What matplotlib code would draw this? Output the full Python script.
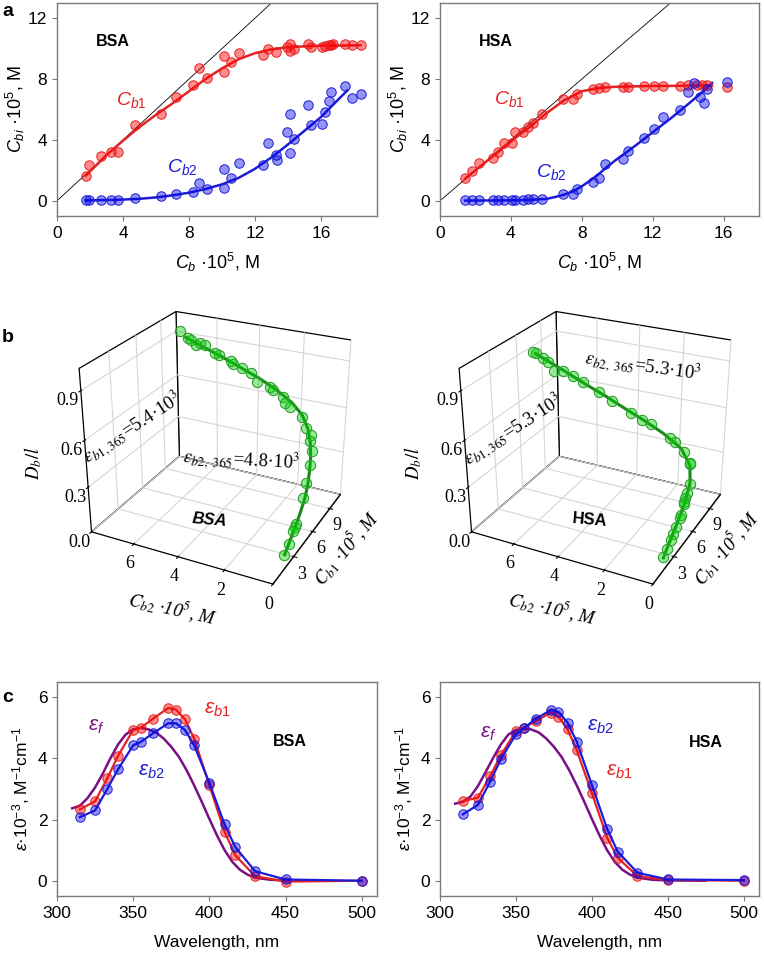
import matplotlib
matplotlib.use('Agg')
import matplotlib.pyplot as plt

plt.rcParams['font.family'] = ['Liberation Sans', 'DejaVu Sans']
plt.rcParams['mathtext.fontset'] = 'custom'
plt.rcParams['mathtext.rm'] = 'Liberation Sans'
plt.rcParams['mathtext.it'] = 'Liberation Sans:italic'
plt.rcParams['mathtext.bf'] = 'Liberation Sans:bold'
plt.rcParams['grid.color'] = '#d6d6d6'
plt.rcParams['grid.linewidth'] = 0.8

# ---- panel a : BSA ----
cb_r_bsa = [1.74, 1.94, 2.69, 3.30, 3.72, 4.72, 6.28, 7.21, 8.22, 8.60, 9.07, 10.1, 10.1, 10.55, 11.05,
            12.51, 12.77, 13.28, 13.97, 14.13, 14.13, 14.39, 15.24, 15.4, 16.05, 16.26, 16.46, 16.62,
            16.76, 17.47, 17.9, 18.44]
cb1_bsa = [1.62, 2.33, 2.94, 3.22, 3.22, 4.96, 5.68, 6.85, 7.59, 8.75, 8.07, 8.47, 9.52, 9.13, 9.70,
           9.59, 9.96, 9.78, 10.14, 10.33, 9.85, 10.0, 10.29, 10.14, 10.14, 10.18, 10.22, 10.25,
           10.29, 10.29, 10.25, 10.25]
cb_b_bsa = [1.74, 1.94, 2.69, 3.30, 3.72, 4.72, 6.28, 7.21, 8.22, 8.60, 9.07, 10.1, 10.1, 10.55, 11.05,
            12.51, 12.77, 13.28, 13.32, 13.97, 14.13, 14.13, 14.39, 15.24, 15.4, 16.05, 16.26, 16.46,
            16.62, 17.47, 17.9, 18.44]
cb2_bsa = [0.02, 0.02, 0.07, 0.07, 0.07, 0.2, 0.31, 0.46, 0.59, 1.18, 0.79, 0.86, 2.1, 1.47, 2.5,
           2.35, 3.77, 2.98, 2.68, 4.52, 5.68, 3.12, 4.04, 6.32, 4.96, 5.07, 5.84, 6.56, 7.15, 7.55,
           6.74, 7.02]
fit_cb_r_bsa = [1.74, 3, 4, 5, 6, 7, 8, 9, 10, 11, 12, 13, 14, 15, 16, 17, 18.4]
fit_cb1_bsa = [1.65, 3.0, 3.95, 4.85, 5.65, 6.4, 7.2, 8.0, 8.7, 9.3, 9.7, 9.95, 10.1, 10.15, 10.2, 10.2, 10.22]
fit_cb_b_bsa = [1.74, 3, 4, 5, 6, 7, 8, 9, 10, 11, 12, 13, 14, 15, 16, 17, 17.6]
fit_cb2_bsa = [0.02, 0.05, 0.08, 0.13, 0.22, 0.36, 0.53, 0.77, 1.08, 1.5, 2.1, 2.85, 3.7, 4.6, 5.5, 6.6, 7.25]

# ---- panel a : HSA ----
cb_r_hsa = [1.42, 1.8, 2.22, 2.98, 3.26, 3.6, 4.04, 4.23, 4.68, 4.99, 5.27, 5.78, 6.92, 7.49, 7.73,
            8.66, 8.95, 9.29, 10.35, 10.62, 11.5, 12.1, 12.6, 13.55, 14.0, 14.5, 14.79, 15.07, 16.21]
cb1_hsa = [1.47, 1.95, 2.5, 2.83, 3.22, 3.77, 3.77, 4.52, 4.52, 4.85, 5.13, 5.68, 6.67, 6.67, 7.04,
           7.33, 7.42, 7.5, 7.5, 7.5, 7.55, 7.55, 7.55, 7.55, 7.59, 7.59, 7.59, 7.59, 7.5]
cb_b_hsa = [1.42, 1.8, 2.22, 2.98, 3.26, 3.6, 4.04, 4.23, 4.68, 4.99, 5.27, 5.78, 6.92, 7.49, 7.73,
            8.66, 8.95, 9.29, 10.35, 10.62, 11.5, 12.1, 12.6, 13.55, 14.0, 14.35, 14.65, 14.88, 15.07, 16.21]
cb2_hsa = [0.02, 0.02, 0.02, 0.02, 0.02, 0.02, 0.02, 0.07, 0.07, 0.09, 0.09, 0.15, 0.42, 0.42, 0.79,
           1.25, 1.51, 2.39, 2.76, 3.27, 4.15, 4.74, 5.51, 5.95, 7.15, 7.72, 6.85, 6.45, 7.37, 7.81]
fit_cb_r_hsa = [1.42, 2, 3, 4, 5, 6, 7, 8, 9, 10, 11, 12, 13, 14, 15, 15.35]
fit_cb1_hsa = [1.45, 2.0, 2.95, 3.9, 4.8, 5.75, 6.6, 7.2, 7.42, 7.5, 7.52, 7.55, 7.55, 7.57, 7.58, 7.58]
fit_cb_b_hsa = [1.42, 4, 5, 6, 6.5, 7, 7.5, 8, 8.5, 9, 9.5, 10, 11, 12, 13, 14, 15, 15.35]
fit_cb2_hsa = [0.01, 0.03, 0.06, 0.12, 0.25, 0.4, 0.62, 0.95, 1.35, 1.8, 2.3, 2.75, 3.6, 4.5, 5.4,
               6.35, 7.35, 7.75]

# ---- panel b : (Cb1, Cb2, Db/l) ----
b_cb1_bsa = [1.62, 2.33, 2.94, 3.22, 3.4, 4.96, 5.68, 6.85, 7.59, 8.75, 8.07, 8.47, 9.52, 9.13, 9.70,
             9.59, 9.96, 9.78, 10.14, 10.33, 9.85, 10.0, 10.29, 10.14, 10.14, 10.18, 10.22, 10.25,
             10.29, 10.25, 10.25]
b_cb2_bsa = [0.02, 0.02, 0.07, 0.07, 0.07, 0.2, 0.31, 0.46, 0.59, 1.18, 0.79, 0.86, 2.1, 1.47, 2.5,
             2.35, 3.77, 2.98, 4.52, 5.68, 3.12, 4.04, 6.32, 4.96, 5.07, 5.84, 6.56, 7.15, 7.55,
             6.74, 7.02]
b_d_bsa = [0.09, 0.12, 0.17, 0.18, 0.19, 0.27, 0.33, 0.39, 0.44, 0.52, 0.48, 0.50, 0.60, 0.57, 0.65,
           0.62, 0.70, 0.68, 0.77, 0.82, 0.69, 0.75, 0.87, 0.78, 0.80, 0.83, 0.88, 0.90, 0.93, 0.86, 0.89]
b_fit1_bsa = [1.65, 3.0, 3.95, 4.85, 5.65, 6.4, 7.2, 8.0, 8.7, 9.3, 9.7, 9.95, 10.1, 10.15, 10.2, 10.2, 10.22]
b_fit2_bsa = [0.02, 0.05, 0.08, 0.13, 0.22, 0.36, 0.53, 0.77, 1.08, 1.5, 2.1, 2.85, 3.7, 4.6, 5.5, 6.6, 7.25]
b_fitd_bsa = [0.09, 0.164, 0.217, 0.268, 0.316, 0.363, 0.414, 0.469, 0.522, 0.574, 0.625, 0.674, 0.723,
              0.769, 0.815, 0.868, 0.9]

b_cb1_hsa = [1.47, 1.95, 2.5, 2.83, 3.22, 3.77, 3.9, 4.52, 4.6, 4.85, 5.13, 5.68, 6.67, 6.7, 7.04,
             7.33, 7.42, 7.5, 7.5, 7.5, 7.55, 7.55, 7.55, 7.55, 7.59, 7.59, 7.59, 7.59, 7.59, 7.5]
b_cb2_hsa = [0.02, 0.02, 0.02, 0.02, 0.02, 0.02, 0.02, 0.07, 0.07, 0.09, 0.09, 0.15, 0.42, 0.42, 0.79,
             1.25, 1.51, 2.39, 2.76, 3.27, 4.15, 4.74, 5.51, 5.95, 7.15, 7.72, 6.85, 6.45, 7.37, 7.81]
b_d_hsa = [0.085, 0.11, 0.14, 0.16, 0.18, 0.21, 0.225, 0.26, 0.27, 0.28, 0.30, 0.33, 0.41, 0.40, 0.45,
           0.49, 0.50, 0.56, 0.58, 0.61, 0.66, 0.70, 0.74, 0.77, 0.83, 0.87, 0.78, 0.79, 0.85, 0.88]
b_fit1_hsa = [1.45, 2.0, 2.95, 3.9, 4.8, 5.75, 6.6, 7.2, 7.42, 7.5, 7.52, 7.55, 7.55, 7.57, 7.58, 7.58]
b_fit2_hsa = [0.01, 0.02, 0.02, 0.03, 0.06, 0.15, 0.4, 0.95, 1.8, 2.75, 3.6, 4.5, 5.4, 6.35, 7.35, 7.75]
b_fitd_hsa = [0.082, 0.114, 0.168, 0.222, 0.276, 0.335, 0.397, 0.462, 0.523, 0.581, 0.63, 0.684,
              0.734, 0.79, 0.846, 0.869]

# ---- panel c : spectra ----
wl = [315, 325, 333, 340, 350, 355, 363, 373, 378, 384, 390, 400, 410, 417, 430, 450, 500]
eb1_bsa = [2.33, 2.6, 3.35, 4.08, 4.93, 5.0, 5.3, 5.65, 5.6, 5.28, 4.65, 3.12, 1.6, 0.83, 0.15, -0.03, 0.0]
eb2_bsa = [2.08, 2.3, 3.0, 3.64, 4.43, 4.54, 4.82, 5.15, 5.15, 4.93, 4.43, 3.2, 1.84, 1.1, 0.31, 0.04, 0.0]
eb1_hsa = [2.6, 2.72, 3.42, 4.1, 4.9, 5.0, 5.22, 5.5, 5.37, 4.95, 4.27, 2.86, 1.41, 0.75, 0.15, 0.02, 0.0]
eb2_hsa = [2.17, 2.48, 3.24, 3.97, 4.79, 4.98, 5.3, 5.58, 5.52, 5.17, 4.55, 3.13, 1.7, 0.95, 0.26, 0.04, 0.02]
wl_f = [310, 315, 320, 325, 330, 335, 340, 345, 350, 355, 360, 365, 370, 375, 380, 385, 390, 395,
        400, 405, 410, 415, 420, 425, 430, 440, 450, 475]
ef_bsa = [2.37, 2.45, 2.7, 3.05, 3.5, 4.0, 4.45, 4.78, 4.95, 5.0, 4.95, 4.85, 4.65, 4.38, 4.05, 3.62,
          3.12, 2.58, 2.02, 1.48, 1.0, 0.62, 0.36, 0.2, 0.1, 0.03, 0.01, 0.0]
ef_hsa = [2.52, 2.58, 2.75, 3.1, 3.55, 4.02, 4.45, 4.78, 4.93, 4.97, 4.95, 4.85, 4.65, 4.38, 4.05, 3.62,
          3.12, 2.58, 2.02, 1.48, 1.0, 0.62, 0.36, 0.2, 0.1, 0.03, 0.01, 0.0]

RED, RED_FACE = '#e42222', (1.0, 0.0, 0.0, 0.45)
BLUE, BLUE_FACE = '#1c1cd8', (0.0, 0.0, 0.92, 0.42)
GREEN, GREEN_FACE, GREEN_EDGE = '#158a15', (0.0, 0.82, 0.0, 0.42), '#2e9e2e'
PURPLE = '#7a0f86'
GREY = '#7a7a7a'
SERIF = 'Liberation Serif'

W, H = 764, 959
fig = plt.figure(figsize=(W / 100, H / 100), dpi=100)


def rect(x0, y0, x1, y1):
    return [x0 / W, 1 - y1 / H, (x1 - x0) / W, (y1 - y0) / H]


def ftext(x, y, s, **kw):
    fig.text(x / W, 1 - y / H, s, ha='center', va='center', **kw)


def style2d(ax):
    for s in ax.spines.values():
        s.set_color(GREY)
        s.set_linewidth(1.0)
    ax.tick_params(direction='out', length=3.5, width=0.8, color=GREY, labelsize=12.5)


def panel_a(ax, xr, yr, xb, yb, fxr, fyr, fxb, fyb, xmax, name, p1, p2):
    ax.plot([0, 14], [0, 14], color='black', lw=0.6, zorder=1)
    ax.plot(fxr, fyr, color=RED, lw=1.8, zorder=2)
    ax.plot(fxb, fyb, color=BLUE, lw=1.8, zorder=2)
    ax.plot(xr, yr, 'o', ms=6.8, mfc=RED_FACE, mec=RED, mew=0.7, zorder=3)
    ax.plot(xb, yb, 'o', ms=6.8, mfc=BLUE_FACE, mec=BLUE, mew=0.7, zorder=3)
    ax.set_xlim(0, xmax)
    ax.set_ylim(-1, 13)
    ax.set_xticks([0, 4, 8, 12, 16])
    ax.set_yticks([0, 4, 8, 12])
    style2d(ax)
    ax.set_xlabel(r'$C_b$ ·10$^5$, M', fontsize=13, labelpad=7)
    ax.set_ylabel(r'$C_{bi}$ ·10$^5$, M', fontsize=13, labelpad=1)
    ax.text(0.175, 0.82, name, transform=ax.transAxes, fontsize=11.5, fontweight='bold',
            ha='center', va='center')
    ax.text(p1[0], p1[1], r'$C_{b1}$', color=RED, fontsize=14, ha='center', va='center')
    ax.text(p2[0], p2[1], r'$C_{b2}$', color=BLUE, fontsize=14, ha='center', va='center')


ax = fig.add_axes(rect(57, 3, 377, 216))
panel_a(ax, cb_r_bsa, cb1_bsa, cb_b_bsa, cb2_bsa, fit_cb_r_bsa, fit_cb1_bsa, fit_cb_b_bsa, fit_cb2_bsa,
        19.4, 'BSA', (4.5, 6.6), (7.6, 2.25))
ax = fig.add_axes(rect(440, 3, 759, 216))
panel_a(ax, cb_r_hsa, cb1_hsa, cb_b_hsa, cb2_hsa, fit_cb_r_hsa, fit_cb1_hsa, fit_cb_b_hsa, fit_cb2_hsa,
        18, 'HSA', (3.9, 6.7), (6.3, 1.9))


def panel_b(r, c1, c2, d, f1, f2, fd, name, dx, t1, t1pos, t2, t2pos, t2rot, italic):
    ax = fig.add_axes(r, projection='3d')
    ax.view_init(elev=26.4, azim=-153.5)
    ax.set_proj_type('persp', focal_length=0.5)
    ax.set_xlim(0, 11)
    ax.set_ylim(0, 8)
    ax.set_zlim(0, 1.03)
    ax.set_box_aspect((0.92, 1, 0.89), zoom=0.95)
    ax.plot(f1, f2, fd, color=GREEN, lw=2.2)
    ax.scatter(c1, c2, d, s=55, c=[GREEN_FACE], edgecolors=GREEN_EDGE, linewidths=0.8, depthshade=False)
    ax.set_xticks([3, 6, 9])
    ax.set_yticks([0, 2, 4, 6])
    ax.set_zticks([0, 0.3, 0.6, 0.9])
    ax.set_zticklabels(['0.0', '0.3', '0.6', '0.9'])
    ax.tick_params(axis='both', labelsize=13, labelfontfamily=SERIF, pad=-2.5)
    for a in (ax.xaxis, ax.yaxis, ax.zaxis):
        a.set_pane_color((1, 1, 1, 1))
        a.pane.set_edgecolor('black')
        a.pane.set_linewidth(0.9)
        a.line.set_color('black')
        a.line.set_linewidth(0.9)
    lab = dict(fontsize=13.5, fontfamily=SERIF, fontstyle='italic', math_fontfamily='stix')
    ftext(dx + 346, 548, r'$C_{b1}$ ·10$^5$, M', rotation=50, **lab)
    ftext(dx + 173, 608, r'$C_{b2}$ ·10$^5$, M', rotation=-12.5, **lab)
    ftext(dx + 33, 463, r'$D_b/l$', rotation=90, **lab)
    txt = dict(fontsize=13.5, fontfamily=SERIF, math_fontfamily='stix')
    ftext(t1pos[0], t1pos[1], t1, rotation=33, **txt)
    ftext(t2pos[0], t2pos[1], t2, rotation=t2rot, **txt)
    ftext(dx + 210, 520, name, fontsize=12, fontweight='bold',
          fontstyle='italic' if italic else 'normal', rotation=-5)


panel_b(rect(31, 276, 401, 606), b_cb1_bsa, b_cb2_bsa, b_d_bsa, b_fit1_bsa, b_fit2_bsa, b_fitd_bsa, 'BSA', 0,
        r'$\varepsilon_{b1,365}$=5.4·10$^3$', (132, 428), r'$\varepsilon_{b2,\ 365}$=4.8·10$^3$', (241, 460), -3,
        True)
panel_b(rect(411, 276, 781, 606), b_cb1_hsa, b_cb2_hsa, b_d_hsa, b_fit1_hsa, b_fit2_hsa, b_fitd_hsa, 'HSA', 380,
        r'$\varepsilon_{b1,365}$=5.3·10$^3$', (513, 430), r'$\varepsilon_{b2,\ 365}$=5.3·10$^3$', (643, 366), -8,
        False)


def panel_c(ax, e1, e2, ef, name, pf, p1, p2, pn):
    ax.plot(wl_f, ef, color=PURPLE, lw=1.8, zorder=1)
    ax.plot(wl, e1, '-o', color=RED, lw=1.6, ms=6.8, mfc=RED_FACE, mec=RED, mew=0.7, zorder=2)
    ax.plot(wl, e2, '-o', color=BLUE, lw=1.6, ms=6.8, mfc=BLUE_FACE, mec=BLUE, mew=0.7, zorder=3)
    ax.set_xlim(300, 510)
    ax.set_ylim(-0.5, 6.5)
    ax.set_xticks([300, 350, 400, 450, 500])
    ax.set_yticks([0, 2, 4, 6])
    style2d(ax)
    ax.set_xlabel('Wavelength, nm', fontsize=12.5, labelpad=10)
    ax.set_ylabel(r'$\varepsilon$·10$^{-3}$, M$^{-1}$cm$^{-1}$', fontsize=12.5, labelpad=4)
    ax.text(pf[0], pf[1], r'$\varepsilon_f$', color=PURPLE, fontsize=15, ha='center', va='center')
    ax.text(p1[0], p1[1], r'$\varepsilon_{b1}$', color=RED, fontsize=15, ha='center', va='center')
    ax.text(p2[0], p2[1], r'$\varepsilon_{b2}$', color=BLUE, fontsize=15, ha='center', va='center')
    ax.text(pn[0], pn[1], name, fontsize=11.5, fontweight='bold', ha='center', va='center')


ax = fig.add_axes(rect(57, 682, 377, 896))
panel_c(ax, eb1_bsa, eb2_bsa, ef_bsa, 'BSA', (326, 5.05), (405, 5.6), (362, 3.58), (453, 4.56))
ax = fig.add_axes(rect(440, 682, 759, 896))
panel_c(ax, eb1_hsa, eb2_hsa, ef_hsa, 'HSA', (332, 4.8), (418, 3.58), (405.5, 5.05), (475, 4.53))

for letter, y in (('a', 12), ('b', 338), ('c', 697)):
    fig.text(2 / W, 1 - y / H, letter, fontsize=14, fontweight='bold', va='center')

fig.savefig('out.png', dpi=100)
